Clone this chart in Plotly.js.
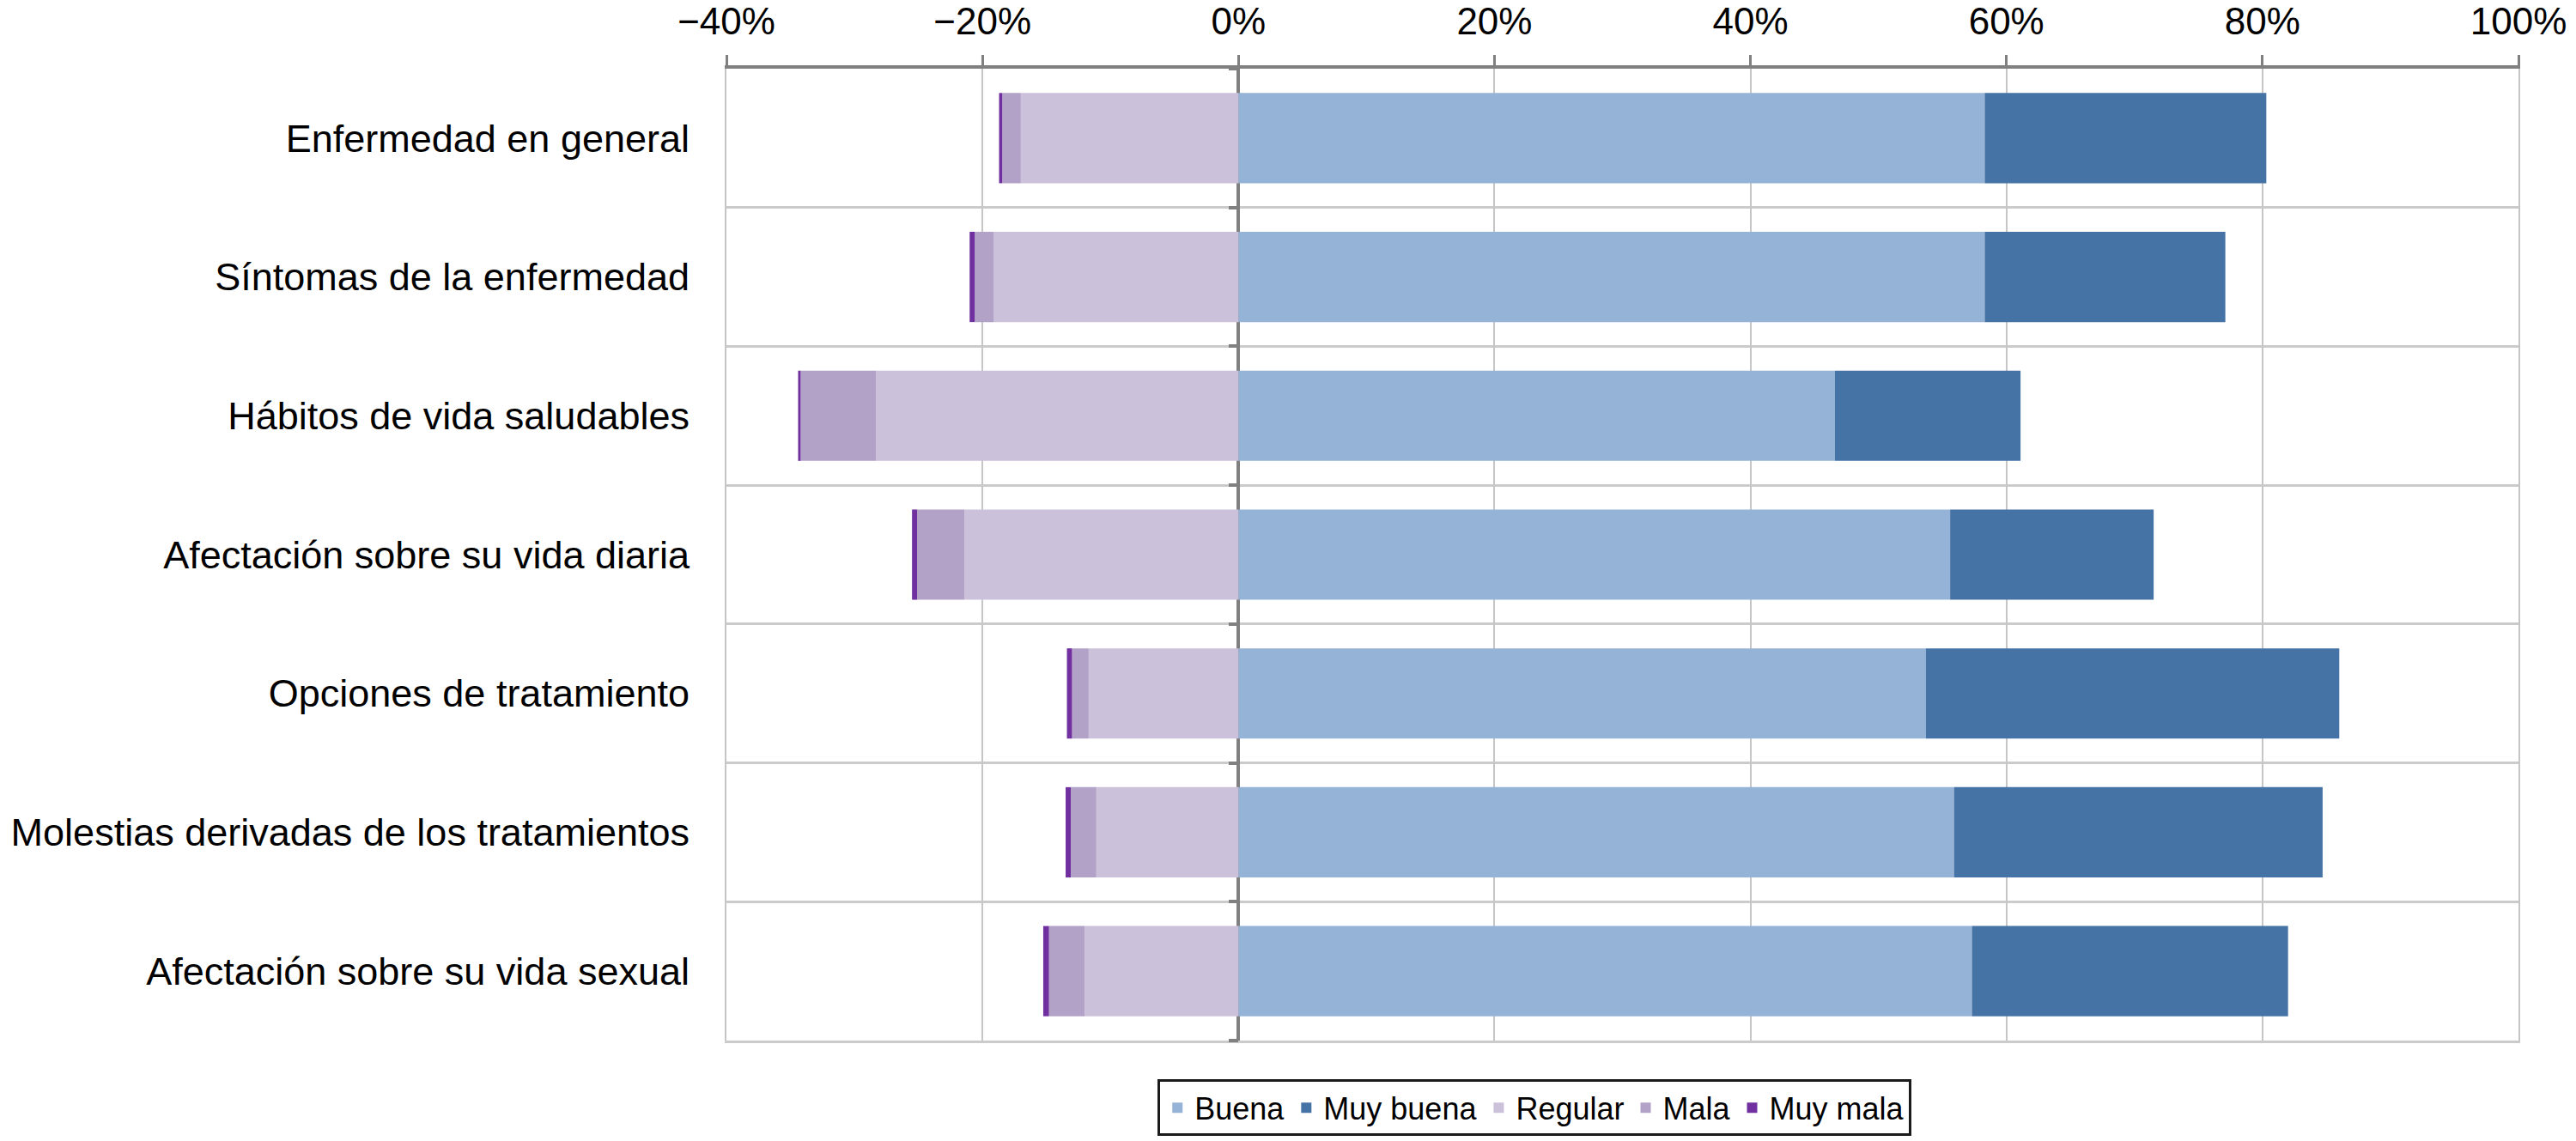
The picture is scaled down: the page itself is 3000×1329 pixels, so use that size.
<!DOCTYPE html>
<html>
<head>
<meta charset="utf-8">
<script src="https://cdn.plot.ly/plotly-3.0.1.min.js"></script>
<style>
  html, body { margin: 0; padding: 0; background: #ffffff; }
  #chart { width: 3000px; height: 1329px; }
</style>
</head>
<body>
<div id="chart"></div>
<script>
// ---- data (percent) ----
const categories = [
  "Enfermedad en general",
  "Síntomas de la enfermedad",
  "Hábitos de vida saludables",
  "Afectación sobre su vida diaria",
  "Opciones de tratamiento",
  "Molestias derivadas de los tratamientos",
  "Afectación sobre su vida sexual"
];
const buena     = [58.3, 58.3, 46.6, 55.6, 53.7, 55.9, 57.3];
const muyBuena  = [22.0, 18.8, 14.5, 15.9, 32.3, 28.8, 24.7];
const regular   = [-17.0, -19.1, -28.3, -21.4, -11.7, -11.1, -12.0];
const mala      = [-1.45, -1.5, -5.9, -3.7, -1.3, -2.0, -2.8];
const muyMala   = [-0.25, -0.4, -0.2, -0.4, -0.4, -0.4, -0.45];
const seriesNames = ["Buena", "Muy buena", "Regular", "Mala", "Muy mala"];
const xTickVals = [-40, -20, 0, 20, 40, 60, 80, 100];

// ---- styling ----
const colors = ["#95B3D7", "#4673A6", "#CCC1DA", "#B3A2C7", "#7030A0"];
const FONT = "Liberation Sans, Arial, Helvetica, sans-serif";
const GRID = "#c6c6c6";
const xRange = [xTickVals[0], xTickVals[xTickVals.length - 1]];

const yIdx = categories.map((c, i) => i);
const seriesValues = [buena, muyBuena, regular, mala, muyMala];

const traces = seriesValues.map((vals, k) => ({
  type: "bar",
  orientation: "h",
  name: seriesNames[k],
  x: vals,
  y: yIdx,
  width: 0.65,
  marker: { color: colors[k], line: { width: 0 } },
  hoverinfo: "x+name"
}));

// dummy trace so the helper axes (zero-position category ticks, bottom border) are drawn
traces.push({
  type: "scatter", mode: "markers",
  x: [null], y: [null], xaxis: "x2", yaxis: "y2",
  showlegend: false, hoverinfo: "skip"
});

const boundaries = categories.map((c, i) => i - 0.5).concat([categories.length - 0.5]);

const layout = {
  width: 3000,
  height: 1329,
  paper_bgcolor: "#ffffff",
  plot_bgcolor: "#ffffff",
  margin: { l: 846, r: 67, t: 80, b: 117, pad: 0, autoexpand: false },
  barmode: "relative",
  font: { family: FONT, color: "#000000" },
  showlegend: true,
  legend: {
    orientation: "h",
    x: 0.451, xanchor: "center",
    y: -0.040, yanchor: "top",
    bgcolor: "#ffffff",
    bordercolor: "#1a1a1a",
    borderwidth: 3,
    font: { family: FONT, size: 36, color: "#000000" },
    traceorder: "normal"
  },
  xaxis: {
    side: "top",
    range: xRange,
    tickmode: "array",
    tickvals: xTickVals,
    ticktext: xTickVals.map(v => (v < 0 ? "\u2212" + Math.abs(v) : String(v)) + "%"),
    showgrid: true,
    gridcolor: GRID,
    gridwidth: 2,
    zeroline: true,
    zerolinecolor: "#808080",
    zerolinewidth: 4,
    showline: true,
    linecolor: "#808080",
    linewidth: 4,
    ticks: "outside",
    ticklen: 12,
    tickwidth: 3,
    tickcolor: "#808080",
    ticklabelstandoff: 6,
    tickfont: { family: FONT, size: 44, color: "#000000" },
    fixedrange: true
  },
  xaxis2: {
    overlaying: "x",
    anchor: "y2",
    side: "bottom",
    range: xRange,
    showticklabels: false,
    ticks: "",
    showgrid: false,
    zeroline: false,
    showline: true,
    linecolor: "#cbcbcb",
    linewidth: 3,
    fixedrange: true
  },
  yaxis: {
    range: [categories.length - 0.5, -0.5],
    tickmode: "array",
    tickvals: yIdx,
    ticktext: categories,
    showgrid: false,
    zeroline: false,
    showline: true,
    mirror: true,
    linecolor: GRID,
    linewidth: 2,
    ticks: "",
    ticklabelstandoff: 32,
    tickfont: { family: FONT, size: 45, color: "#000000" },
    minor: {
      tickmode: "array",
      tickvals: boundaries,
      showgrid: true,
      gridcolor: "#cbcbcb",
      gridwidth: 3,
      ticks: ""
    },
    fixedrange: true
  },
  yaxis2: {
    overlaying: "y",
    anchor: "free",
    position: (0 - xRange[0]) / (xRange[1] - xRange[0]),
    side: "left",
    range: [categories.length - 0.5, -0.5],
    tickmode: "array",
    tickvals: boundaries,
    showticklabels: false,
    ticks: "outside",
    ticklen: 11,
    tickwidth: 4,
    tickcolor: "#808080",
    showgrid: false,
    zeroline: false,
    showline: false,
    fixedrange: true
  }
};

Plotly.newPlot("chart", traces, layout, { displayModeBar: false, staticPlot: true });
</script>
</body>
</html>
